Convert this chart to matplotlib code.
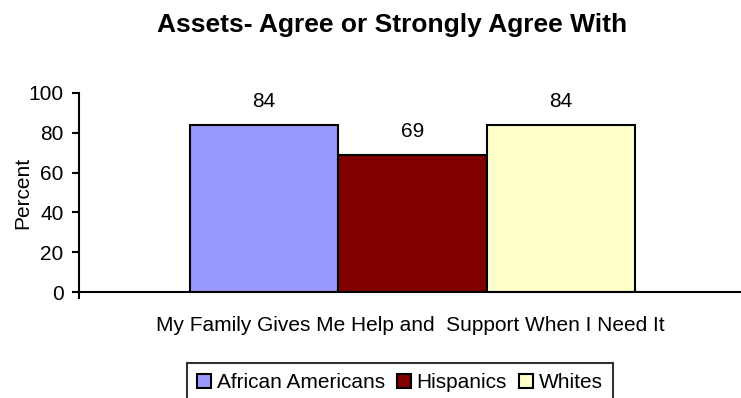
import matplotlib
matplotlib.use('Agg')
import matplotlib.pyplot as plt
import numpy as np

plt.rcParams['font.family'] = ['Liberation Sans', 'DejaVu Sans']

groups = ['African Americans', 'Hispanics', 'Whites']
values = [84, 69, 84]
colors = ['#9999FF', '#800000', '#FFFFCC']
category = 'My Family Gives Me Help and  Support When I Need It'
yticks = [0, 20, 40, 60, 80, 100]

fs = 15

fig = plt.figure(figsize=(7.41, 3.98), dpi=100)
ax = fig.add_axes([79/741, 1-292/398, (741-79)/741, 199/398])

pos = np.arange(len(values)) - 1
for i in range(len(values)):
    ax.bar(pos[i], values[i], width=1.0, color=colors[i], edgecolor='black',
           linewidth=1.5, label=groups[i])
    ax.annotate(str(values[i]), (pos[i], values[i]), xytext=(0, 13),
                textcoords='offset points', ha='center', va='baseline', fontsize=fs)

ax.set_xlim(-2.247, 2.214)
ax.set_ylim(0, 100)
ax.set_yticks(yticks)
ax.tick_params(axis='y', direction='out', length=5, width=1.5, labelsize=fs, pad=6)
ax.set_xticks([-2.247])
ax.set_xticklabels([''])
ax.tick_params(axis='x', direction='out', length=5, width=1.5)
ax.spines['top'].set_visible(False)
ax.spines['right'].set_visible(False)
ax.spines['left'].set_linewidth(1.5)
ax.spines['bottom'].set_linewidth(1.5)
ax.set_ylabel('Percent', fontsize=fs, labelpad=-2.5)

fig.text(410/741, 1-331/398, category, ha='center', va='baseline', fontsize=fs)
fig.text(392/741, 1-32/398, 'Assets- Agree or Strongly Agree With', ha='center',
         va='baseline', fontsize=19, fontweight='bold')

leg = fig.legend(loc='upper center', bbox_to_anchor=(400/741, 1-363/398), ncol=3,
                 fontsize=fs, frameon=True, fancybox=False, handlelength=0.67,
                 handleheight=0.67, handletextpad=0.25, columnspacing=0.6,
                 borderpad=0.5, borderaxespad=0)
leg.get_frame().set_edgecolor('black')
leg.get_frame().set_linewidth(1.5)

plt.savefig('out.png', format='png')
